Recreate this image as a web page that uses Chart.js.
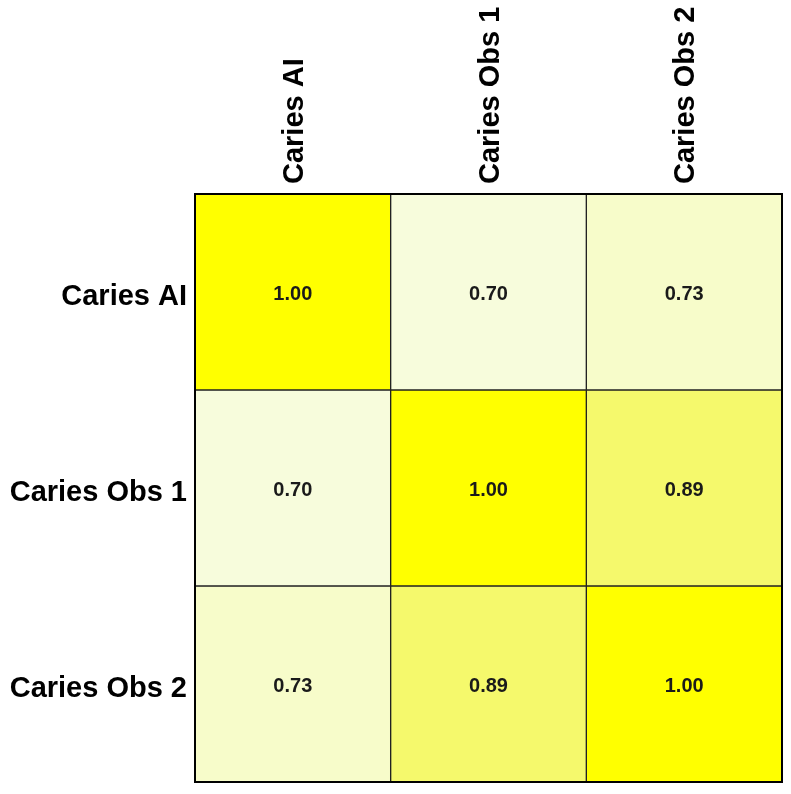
<!DOCTYPE html>
<html>
<head>
    <title>Caries correlation</title>
    <script src="https://cdn.jsdelivr.net/npm/chart.js"></script>
    <style>
        body { margin: 0; background: #fff; }
    </style>
</head>
<body>
    <div style="width: 791px; height: 794px;">
        <canvas id="corrChart"></canvas>
    </div>

    <script>
        // labels and values
        const rowLabels = ['Caries AI', 'Caries Obs 1', 'Caries Obs 2'];
        const colLabels = ['Caries AI', 'Caries Obs 1', 'Caries Obs 2'];
        const corrRow0 = [1.00, 0.70, 0.73];
        const corrRow1 = [0.70, 1.00, 0.89];
        const corrRow2 = [0.73, 0.89, 1.00];
        const corrRows = [corrRow0, corrRow1, corrRow2];

        // pale cream -> bright yellow
        function cellColor(v) {
            const stops = [[0.70, [247, 252, 220]], [0.89, [245, 249, 108]], [1.00, [255, 255, 0]]];
            if (v <= stops[0][0]) return 'rgb(' + stops[0][1].join(',') + ')';
            for (let k = 1; k < stops.length; k++) {
                if (v <= stops[k][0]) {
                    const a = stops[k - 1], b = stops[k];
                    const t = (v - a[0]) / (b[0] - a[0]);
                    const c = a[1].map((x, n) => Math.round(x + (b[1][n] - x) * t));
                    return 'rgb(' + c.join(',') + ')';
                }
            }
            return 'rgb(255,255,0)';
        }

        const datasets = corrRows.map((row, i) => ({
            label: rowLabels[i],
            data: row.map((v, j) => ({ x: colLabels[j], y: [i, i + 1], v: v })),
            backgroundColor: row.map(cellColor),
            borderColor: '#222',
            borderWidth: 1,
            borderSkipped: false,
            categoryPercentage: 1,
            barPercentage: 1,
            grouped: false
        }));

        // cell values + outer frame
        const cellText = {
            id: 'cellText',
            afterDatasetsDraw(chart) {
                const ctx = chart.ctx;
                ctx.save();
                ctx.font = 'bold 20px "Liberation Sans", Arial, sans-serif';
                ctx.fillStyle = '#1a1a1a';
                ctx.textAlign = 'center';
                ctx.textBaseline = 'middle';
                chart.data.datasets.forEach((ds, i) => {
                    chart.getDatasetMeta(i).data.forEach((el, j) => {
                        const p = el.getProps(['x', 'y', 'base'], true);
                        ctx.fillText(ds.data[j].v.toFixed(2), p.x, (p.y + p.base) / 2 + 2);
                    });
                });
                const a = chart.chartArea;
                ctx.strokeStyle = '#000';
                ctx.lineWidth = 2;
                ctx.strokeRect(a.left, a.top, a.right - a.left, a.bottom - a.top);
                ctx.restore();
            }
        };

        new Chart(document.getElementById('corrChart'), {
            type: 'bar',
            data: { labels: colLabels, datasets: datasets },
            options: {
                responsive: true,
                maintainAspectRatio: false,
                animation: false,
                layout: { padding: { right: 9, bottom: 12 } },
                plugins: {
                    legend: { display: false },
                    tooltip: { enabled: false }
                },
                scales: {
                    x: {
                        position: 'top',
                        grid: { display: false },
                        border: { display: false },
                        ticks: {
                            minRotation: 90,
                            maxRotation: 90,
                            padding: 2,
                            labelOffset: 37,
                            color: '#000',
                            font: { family: '"Liberation Sans", Arial, sans-serif', size: 29, weight: 'bold' }
                        },
                        afterFit(scale) { scale.height = 194; }
                    },
                    y: {
                        type: 'linear',
                        min: 0,
                        max: 3,
                        reverse: true,
                        grid: { display: false },
                        border: { display: false },
                        afterBuildTicks(scale) {
                            scale.ticks = rowLabels.map((_, i) => ({ value: i + 0.5 }));
                        },
                        ticks: {
                            padding: 0,
                            labelOffset: 5,
                            color: '#000',
                            font: { family: '"Liberation Sans", Arial, sans-serif', size: 29, weight: 'bold' },
                            callback: (v) => rowLabels[Math.floor(v)]
                        },
                        afterFit(scale) {
                            scale.width = 195;
                            scale.paddingTop = 0;
                            scale.paddingBottom = 0;
                        }
                    }
                }
            },
            plugins: [cellText]
        });
    </script>
</body>
</html>
